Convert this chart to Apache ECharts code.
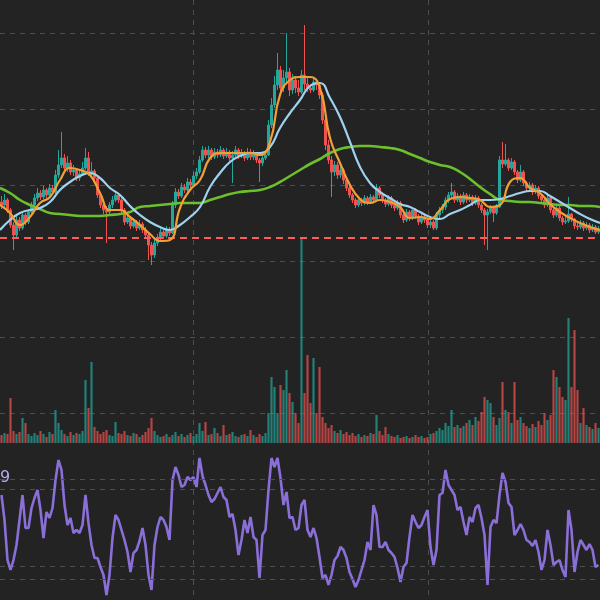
<!DOCTYPE html>
<html><head><meta charset="utf-8">
<script src="https://cdn.jsdelivr.net/npm/echarts/dist/echarts.min.js"></script>
<style>html,body{margin:0;padding:0;background:#232323}#c{width:600px;height:600px}</style>
</head><body><div id="c"></div>
<script>
// [open, close, low, high]
const candles = [
[14.9,14.75,14.55,15.2],[14.75,15.0,14.6,15.3],[15.0,14.5,14.35,15.1],[14.5,13.75,13.6,14.6],[13.75,13.25,12.5,13.9],
[13.25,14.0,13.1,14.2],[14.0,13.6,13.45,14.15],[13.6,14.25,13.5,14.4],[14.25,13.9,13.75,14.35],[13.9,14.4,13.8,14.55],
[14.4,14.75,14.3,14.9],[14.75,15.1,14.6,15.3],[15.1,15.35,14.95,15.6],[15.35,15.15,15.0,15.5],[15.15,15.5,15.05,15.7],
[15.5,15.25,15.1,15.6],[15.25,15.6,15.15,15.8],[15.6,15.4,15.25,15.75],[15.4,16.25,15.3,16.5],[16.25,16.75,16.1,17.5],
[16.75,17.1,16.6,18.4],[17.1,16.6,16.45,17.3],[16.6,16.85,16.4,17.2],[16.85,16.4,16.25,17.0],[16.4,16.5,16.2,16.75],
[16.5,16.1,15.95,16.6],[16.1,16.3,15.95,16.5],[16.3,16.6,16.2,16.9],[16.6,17.1,16.5,17.6],[17.1,16.3,16.2,17.4],
[16.3,16.45,16.2,16.9],[16.45,16.1,15.95,16.55],[16.1,15.25,15.1,16.2],[15.25,14.75,14.6,15.4],[14.75,14.5,14.3,14.9],
[14.5,14.4,12.85,14.7],[14.4,14.75,14.25,14.9],[14.75,15.0,14.6,15.2],[15.0,15.25,14.9,15.45],[15.25,15.0,14.85,15.35],
[15.0,14.5,14.35,15.1],[14.5,13.9,13.75,14.6],[13.9,14.1,13.8,14.3],[14.1,13.7,13.55,14.2],[13.7,13.9,13.6,14.1],
[13.9,13.6,13.45,14.0],[13.6,13.8,13.5,14.0],[13.8,13.5,13.35,13.9],[13.5,13.25,13.1,13.65],[13.25,12.75,12.0,13.35],
[12.75,12.25,11.75,12.9],[12.25,12.85,12.1,13.0],[12.85,13.1,12.7,13.3],[13.1,13.4,13.0,13.6],[13.4,13.2,13.05,13.55],
[13.2,13.5,13.1,13.7],[13.5,13.35,13.2,13.65],[13.35,14.75,13.3,14.95],[14.75,15.4,14.6,15.6],[15.4,15.2,15.05,15.55],
[15.2,15.65,15.1,15.85],[15.65,15.5,15.35,15.8],[15.5,15.9,15.4,16.1],[15.9,15.75,15.6,16.05],[15.75,16.2,15.65,16.4],
[16.2,16.4,16.05,16.6],[16.4,17.0,16.3,17.2],[17.0,17.5,16.9,17.7],[17.5,17.25,17.1,17.65],[17.25,17.5,17.1,17.7],
[17.5,17.15,17.0,17.6],[17.15,17.4,17.05,17.6],[17.4,17.25,17.1,17.55],[17.25,17.5,17.15,17.7],[17.5,17.2,17.05,17.6],
[17.2,17.4,17.1,17.6],[17.4,17.1,16.95,17.5],[17.1,17.25,15.85,17.45],[17.25,17.5,17.15,17.7],[17.5,17.2,17.05,17.6],
[17.2,17.35,17.1,17.55],[17.35,17.1,16.95,17.45],[17.1,17.4,17.0,17.6],[17.4,17.15,17.0,17.55],[17.15,17.3,17.0,17.5],
[17.3,17.0,16.85,17.4],[17.0,16.85,15.9,17.1],[16.85,17.1,16.7,17.3],[17.1,17.25,17.0,17.45],[17.25,18.75,17.2,19.0],
[18.75,19.75,18.6,20.1],[19.75,20.75,19.6,21.2],[20.75,21.5,20.5,22.35],[21.5,20.6,20.3,21.7],[20.6,21.1,20.4,21.5],
[21.1,21.4,20.8,23.35],[21.4,20.5,20.2,21.6],[20.5,21.0,20.3,21.3],[21.0,20.6,20.35,21.2],[20.6,20.4,20.2,21.0],
[20.4,21.25,20.3,21.5],[21.25,20.8,20.5,23.75],[20.8,20.6,20.4,21.1],[20.6,20.5,20.35,20.8],[20.5,20.9,20.4,21.1],
[20.9,20.75,20.5,21.05],[20.75,20.25,20.05,20.9],[20.25,19.0,18.8,20.4],[19.0,17.75,17.5,19.2],[17.75,17.0,16.8,18.0],
[17.0,16.4,15.15,17.2],[16.4,16.75,16.2,16.95],[16.75,16.25,16.05,16.9],[16.25,16.5,16.1,16.7],[16.5,16.0,15.8,16.6],
[16.0,15.6,15.45,16.1],[15.6,15.25,15.1,15.7],[15.25,15.0,14.85,15.35],[15.0,14.75,14.6,15.1],[14.75,15.0,14.65,15.15],
[15.0,14.85,14.7,15.1],[14.85,15.1,14.75,15.25],[15.1,14.9,14.75,15.2],[14.9,15.15,14.8,15.3],[15.15,15.0,14.85,15.25],
[15.0,15.6,14.9,15.8],[15.6,15.25,15.1,15.7],[15.25,15.0,14.85,15.35],[15.0,14.8,14.65,15.1],[14.8,15.1,14.7,15.25],
[15.1,14.75,14.6,15.2],[14.75,14.6,14.45,14.9],[14.6,14.85,14.5,15.0],[14.85,14.25,14.1,14.95],[14.25,14.0,13.85,14.35],
[14.0,14.4,13.9,14.55],[14.4,14.1,13.95,14.5],[14.1,14.5,14.0,14.65],[14.5,14.2,14.05,14.6],[14.2,13.9,13.75,14.3],
[13.9,14.15,13.8,14.3],[14.15,14.0,13.85,14.25],[14.0,13.75,13.6,14.1],[13.75,13.9,13.6,14.05],[13.9,13.6,13.5,14.0],
[13.6,14.25,13.5,14.4],[14.25,14.5,14.1,14.65],[14.5,14.65,14.35,14.8],[14.65,15.0,14.5,15.15],[15.0,15.25,14.85,15.4],
[15.25,15.4,15.1,15.85],[15.4,15.0,14.85,15.5],[15.0,15.2,14.9,15.35],[15.2,14.9,14.75,15.3],[14.9,15.25,14.8,15.4],
[15.25,15.0,14.85,15.35],[15.0,15.15,14.9,15.3],[15.15,14.85,14.7,15.25],[14.85,15.1,14.75,15.25],[15.1,14.75,14.6,15.2],
[14.75,14.5,14.35,14.85],[14.5,14.25,12.75,14.6],[14.25,14.4,12.5,14.55],[14.4,14.6,14.3,14.75],[14.6,14.35,13.9,14.7],
[14.35,14.65,14.25,14.8],[14.65,17.0,14.6,17.2],[17.0,16.8,16.6,17.9],[16.8,17.0,16.7,17.8],[17.0,16.6,16.45,17.1],
[16.6,16.9,16.5,17.1],[16.9,16.4,16.25,17.0],[16.4,16.0,15.85,16.5],[16.0,16.4,15.9,16.75],[16.4,15.85,15.7,16.5],
[15.85,15.6,15.45,15.95],[15.6,15.75,15.5,15.9],[15.75,15.4,15.25,15.85],[15.4,15.6,15.3,15.75],[15.6,15.2,15.05,15.7],
[15.2,15.0,14.85,15.3],[15.0,14.75,14.6,15.1],[14.75,15.1,14.65,15.25],[15.1,14.5,14.35,15.2],[14.5,14.25,14.1,14.6],
[14.25,14.6,14.15,14.75],[14.6,14.1,13.95,14.7],[14.1,13.9,13.75,14.2],[13.9,13.95,13.8,14.2],[13.95,14.3,13.85,15.15],
[14.3,14.05,13.9,14.35],[14.05,13.7,13.55,14.1],[13.7,13.65,13.5,13.9],[13.65,13.85,13.55,14.0],[13.85,13.6,13.45,13.95],
[13.6,13.75,13.5,13.9],[13.75,13.5,13.35,13.85],[13.5,13.65,13.4,13.8],[13.65,13.4,13.3,13.75],[13.4,13.55,13.3,13.7]
];
const volumes = [
80,100,90,450,120,90,110,250,200,90,
70,100,80,120,90,60,110,90,330,200,
130,90,70,110,80,100,90,120,630,350,
810,160,120,90,110,130,80,70,210,100,
90,120,80,70,100,90,60,80,110,150,
250,120,80,60,70,90,60,80,110,70,
90,60,80,100,70,90,200,120,210,80,
90,150,100,70,180,80,90,110,70,60,
80,90,70,130,80,60,90,70,100,300,
660,560,300,580,530,730,500,410,300,200,
2050,500,880,400,850,300,760,260,200,150,
180,120,100,130,90,110,80,100,70,90,
60,80,70,100,90,280,120,80,160,90,
70,60,80,50,60,70,50,60,80,60,
70,50,60,90,100,120,150,130,200,170,
330,160,180,150,170,200,230,180,260,220,
310,460,430,400,260,180,250,610,330,310,
200,610,230,260,200,170,150,190,160,220,
180,300,230,280,730,660,560,460,430,1250,
560,1130,530,200,350,180,160,140,200,150
];
const rsiValues = [
63.6,53.6,37.6,33.6,37.6,43.6,53.6,63.6,50.4,50.4,
58.4,62.4,65.6,57.6,46.4,56.8,54.4,58.4,69.6,77.6,
73.6,59.6,51.6,54.4,48.4,49.6,48.4,51.6,63.6,52.4,
43.6,38.4,38.4,34.8,31.6,23.6,31.6,46.4,55.6,53.6,
49.6,45.6,40.8,32.8,40.4,41.6,45.2,50.4,43.6,31.6,
25.6,43.6,50.8,54.8,53.6,50.8,45.6,69.6,74.8,71.6,
66.8,67.6,70.8,69.6,70.8,66.8,78.4,71.2,67.6,63.6,
60.8,62.0,64.4,66.8,62.8,61.6,54.8,56.0,49.6,39.6,
45.6,53.6,48.4,54.8,46.8,45.6,30.4,47.6,49.6,65.6,
78.4,74.8,78.4,70.4,59.6,64.8,54.4,54.8,49.6,50.4,
59.6,61.6,49.6,46.8,50.4,46.4,38.8,30.4,31.6,27.6,
31.6,37.6,39.2,42.8,41.6,38.4,32.8,30.0,26.8,29.6,
33.6,37.6,44.8,41.6,59.6,55.6,42.8,42.8,44.8,41.6,
40.4,38.8,34.4,28.8,34.8,36.4,46.8,55.6,52.8,50.4,
51.6,54.8,57.6,42.8,35.6,41.6,63.6,64.4,73.6,67.6,
65.6,63.6,57.6,58.8,52.8,47.6,54.8,52.8,58.4,59.6,
54.4,47.6,27.6,50.8,53.6,52.4,63.6,72.4,68.8,60.4,
58.8,47.6,49.6,52.0,49.6,45.6,44.8,43.2,45.6,40.8,
33.6,37.6,49.6,43.6,35.6,36.8,37.6,33.6,30.8,57.6,
49.6,32.8,40.8,45.6,43.6,41.6,44.0,41.6,34.8,35.6
];
const maFast = [14.75,14.35,13.75,14.15,14.85,15.15,16.0,16.6,16.5,16.25,
 15.35,14.5,14.5,14.15,13.75,13.3,12.95,13.0,14.6,15.5,
 16.0,17.1,17.35,17.35,17.35,17.35,17.25,17.9,20.25,21.0,
 21.15,21.15,20.6,18.1,16.85,15.75,15.05,14.85,15.0,14.9,
 14.65,14.1,14.15,14.05,14.5,15.05,15.15,15.1,15.0,14.65,
 14.75,15.9,16.1,15.6,15.35,14.8,14.4,14.1,13.85,13.65,13.5];
const maMid = [13.5,14.0,14.35,14.5,14.6,14.9,15.5,15.9,16.2,16.35,
 16.1,15.6,15.25,14.7,14.25,13.9,13.65,13.5,13.75,14.15,
 14.65,15.65,16.35,16.9,17.2,17.35,17.35,17.65,18.6,19.35,
 20.0,20.7,20.85,20.1,19.15,17.9,16.65,15.85,15.4,15.1,
 14.8,14.65,14.4,14.15,14.05,14.3,14.5,14.75,15.0,15.0,
 15.05,15.2,15.35,15.45,15.45,15.2,14.9,14.6,14.3,14.05,13.85];
const maSlow = [15.6,15.35,15.0,14.75,14.55,14.35,14.3,14.25,14.2,14.2,
 14.2,14.25,14.3,14.4,14.65,14.7,14.75,14.8,14.85,14.85,
 14.85,15.0,15.15,15.3,15.4,15.45,15.5,15.65,15.9,16.2,
 16.5,16.8,17.05,17.35,17.55,17.65,17.7,17.7,17.65,17.6,
 17.5,17.3,17.1,16.9,16.75,16.65,16.4,16.05,15.65,15.3,
 15.0,14.95,14.9,14.9,14.85,14.8,14.75,14.75,14.7,14.7,14.65];
const supportLevel = 13.1;
const rsiBands = [70, 30];
const rsiLabel = '9';

const cats = candles.map((_, i) => 'd' + i);
const maCats = maFast.map((_, i) => 'm' + i);
const UP = '#26a69a', DOWN = '#ef5350';
const gridLine = {show: true, showMinLine: true, showMaxLine: false,
  lineStyle: {color: '#4e4e4e', type: [5, 5], width: 1}};
const off = {show: false};

const chart = echarts.init(document.getElementById('c'));
chart.setOption({
  backgroundColor: '#232323',
  animation: false,
  grid: [
    {left: 0, right: 0, top: 33, bottom: 0},     // horizontal grid lines
    {left: 193, right: 0, top: 0, bottom: 0},    // vertical grid lines
    {left: 0, right: 0, top: 0, bottom: 155},    // price
    {left: 0, right: 0, top: 0, bottom: 157},    // volume
    {left: 0, right: 0, top: 447, bottom: 0}     // RSI
  ],
  xAxis: [
    {type: 'value', gridIndex: 0, min: 0, max: 1, show: false, splitLine: off},
    {type: 'value', gridIndex: 1, min: 0, max: 1.7319, interval: 1, axisLine: off, axisTick: off, axisLabel: off, splitLine: gridLine},
    {type: 'category', gridIndex: 2, data: cats, boundaryGap: true, show: false},
    {type: 'category', gridIndex: 2, data: maCats, boundaryGap: false, show: false},
    {type: 'category', gridIndex: 3, data: cats, boundaryGap: true, show: false},
    {type: 'category', gridIndex: 4, data: cats, boundaryGap: true, show: false}
  ],
  yAxis: [
    {type: 'value', gridIndex: 0, min: 0, max: 7.45, interval: 1, inverse: true, axisLine: off, axisTick: off, axisLabel: off, splitLine: gridLine},
    {type: 'value', gridIndex: 1, min: 0, max: 1, show: false, splitLine: off},
    {type: 'value', gridIndex: 2, min: 2.75, max: 25, show: false, splitLine: off},
    {type: 'value', gridIndex: 3, min: 0, max: 4430, show: false, splitLine: off},
    {type: 'value', gridIndex: 4, min: 21.6, max: 82.8, show: false, splitLine: off}
  ],
  graphic: [{
    type: 'text', left: 0, top: 470,
    style: {text: rsiLabel, fill: '#b9a8ee', font: '16px "DejaVu Sans", sans-serif'}
  }],
  series: [
    {
      type: 'bar', xAxisIndex: 4, yAxisIndex: 3, barWidth: '72%', z: 1,
      data: volumes.map((v, i) => ({value: v, itemStyle: {color: candles[i][1] >= candles[i][0] ? 'rgba(38,166,154,0.72)' : 'rgba(239,83,80,0.72)'}}))
    },
    {
      type: 'candlestick', xAxisIndex: 2, yAxisIndex: 2, data: candles, barWidth: '70%', z: 2,
      itemStyle: {color: UP, color0: DOWN, borderColor: UP, borderColor0: DOWN, borderWidth: 1},
      markLine: {
        silent: true, symbol: 'none', label: {show: false},
        lineStyle: {color: '#ff5b5b', type: [7, 5], width: 2},
        data: [{yAxis: supportLevel}]
      }
    },
    {type: 'line', xAxisIndex: 3, yAxisIndex: 2, data: maSlow, smooth: true, showSymbol: false, z: 3,
     lineStyle: {color: '#6cc02c', width: 2.6}},
    {type: 'line', xAxisIndex: 3, yAxisIndex: 2, data: maMid, smooth: true, showSymbol: false, z: 4,
     lineStyle: {color: '#9fd2ee', width: 2.2}},
    {type: 'line', xAxisIndex: 3, yAxisIndex: 2, data: maFast, smooth: true, showSymbol: false, z: 5,
     lineStyle: {color: '#f0a035', width: 2.2}},
    {
      type: 'line', xAxisIndex: 5, yAxisIndex: 4, data: rsiValues, showSymbol: false, z: 3,
      lineStyle: {color: '#8b6fd8', width: 2.6},
      markLine: {
        silent: true, symbol: 'none', label: {show: false},
        lineStyle: {color: '#4e4e4e', type: [5, 5], width: 1},
        data: rsiBands.map(b => ({yAxis: b}))
      }
    }
  ]
});
</script>
</body></html>
